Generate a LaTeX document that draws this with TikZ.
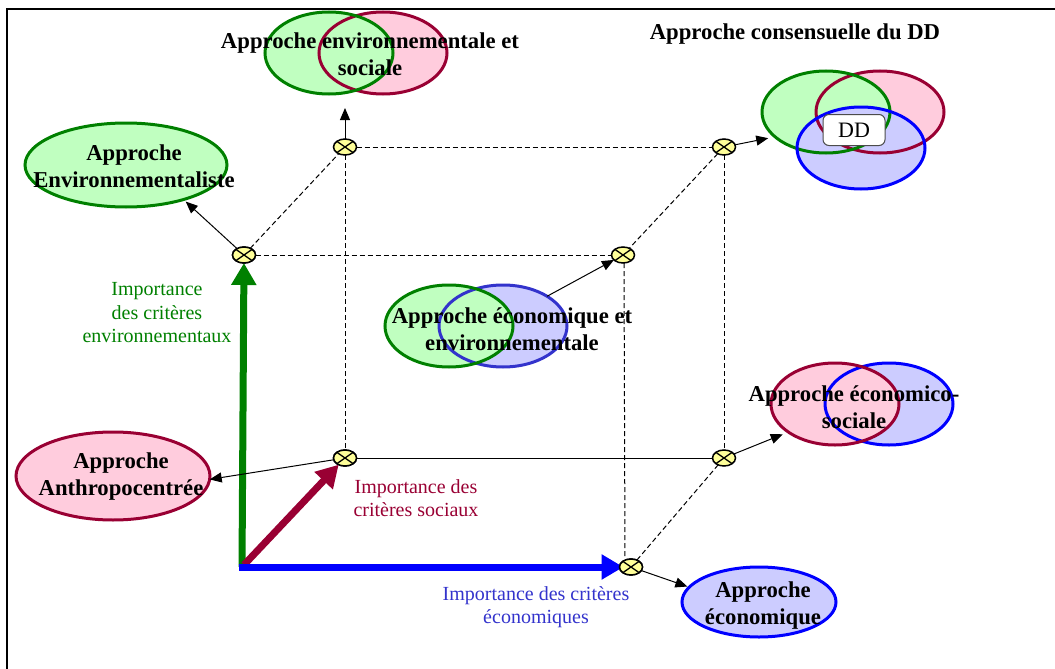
\documentclass[tikz,border=0pt]{standalone}
\usepackage{fontspec}
\setmainfont{Liberation Serif}
\usetikzlibrary{shapes.geometric,arrows.meta,calc}
\definecolor{dgreen}{RGB}{0,128,0}
\definecolor{lgreen}{RGB}{192,255,192}
\definecolor{maroon}{RGB}{153,0,51}
\definecolor{lpink}{RGB}{255,204,221}
\definecolor{dblue}{RGB}{0,0,255}
\definecolor{lblue}{RGB}{204,204,255}
\definecolor{mblue}{RGB}{51,51,204}
\definecolor{myyellow}{RGB}{255,255,153}
\begin{document}
\begin{tikzpicture}[x=1pt,y=-1pt,
 ell/.style={ellipse, inner sep=0pt, outer sep=0pt, minimum width=128pt, minimum height=82pt},
 bt/.style={font=\bfseries\fontsize{22.7}{27}\selectfont, align=center, inner sep=0pt},
 lt/.style={font=\fontsize{20}{23.5}\selectfont, align=center, inner sep=0pt},
 mk/.style={ellipse, draw=black, line width=1.5pt, fill=myyellow, minimum width=23pt, minimum height=16pt, inner sep=0pt, outer sep=0pt,
   path picture={\draw[line width=1.3pt] (path picture bounding box.south west) -- (path picture bounding box.north east)
     (path picture bounding box.north west) -- (path picture bounding box.south east);}},
 dsh/.style={line width=1pt, dash pattern=on 5pt off 3pt},
 arr/.style={line width=1pt, -{Triangle[length=12pt,width=10pt]}},
 big/.style={line width=7pt, -{Triangle[length=22pt,width=24pt]}},
 olw/.style={line width=3pt},
 ddbox/.style={draw=black!70, line width=1pt, fill=white, rounded corners=6pt, minimum width=62pt, minimum height=31pt, inner sep=0pt, font=\fontsize{22}{26}\selectfont}
]
\useasboundingbox (0,0) rectangle (1055,669);
% frame
\coordinate (f1) at (7,669);
\coordinate (f2) at (7,9);
\coordinate (f3) at (1055,9);
\draw[line width=2pt] (f1) -- (f2) -- (f3);

% ---------- ellipse fills ----------
\node[ell, fill=lgreen, minimum width=202pt, minimum height=84pt] (envE) at (126,165) {};
\node[ell, fill=lpink] (esP) at (383,53) {};
\node[ell, fill=lgreen] (esG) at (329,53) {};
\node[ell, fill=lpink] (ddP) at (880,112) {};
\node[ell, fill=lgreen] (ddG) at (826,112) {};
\node[ell, fill=lblue] (ddB) at (861,148) {};
\node[ell, fill=lblue] (eeB) at (503,326) {};
\node[ell, fill=lgreen] (eeG) at (449,326) {};
\node[ell, fill=lpink, minimum width=194pt, minimum height=88pt] (anth) at (113,476) {};
\node[ell, fill=lblue] (soB) at (889,404) {};
\node[ell, fill=lpink] (soP) at (835,404) {};
\node[ell, fill=lblue, minimum width=154pt, minimum height=70pt] (econ) at (759,602) {};

% ---------- ellipse outlines ----------
\draw[dgreen, olw] (envE.center) ellipse [x radius=101pt, y radius=42pt];
\draw[maroon, olw] (esP.center) ellipse [x radius=64pt, y radius=41pt];
\draw[dgreen, olw] (esG.center) ellipse [x radius=64pt, y radius=41pt];
\draw[maroon, olw] (ddP.center) ellipse [x radius=64pt, y radius=41pt];
\draw[dgreen, olw] (ddG.center) ellipse [x radius=64pt, y radius=41pt];
\draw[dblue, olw] (ddB.center) ellipse [x radius=64pt, y radius=41pt];
\draw[mblue, olw] (eeB.center) ellipse [x radius=64pt, y radius=41pt];
\draw[dgreen, olw] (eeG.center) ellipse [x radius=64pt, y radius=41pt];
\draw[maroon, olw] (anth.center) ellipse [x radius=97pt, y radius=44pt];
\draw[dblue, olw] (soB.center) ellipse [x radius=64pt, y radius=41pt];
\draw[maroon, olw] (soP.center) ellipse [x radius=64pt, y radius=41pt];
\draw[dblue, olw] (econ.center) ellipse [x radius=77pt, y radius=35pt];

\node[ddbox] (dd) at (854,130) {DD};

% ---------- texts ----------
\node[bt] (tDD) at (795,34) {Approche consensuelle du DD};
\node[bt] (tES) at (370,54) {Approche environnementale et\\sociale};
\node[bt] (tE) at (134,166) {Approche\\Environnementaliste};
\node[bt] (tEE) at (512,329) {Approche économique et\\environnementale};
\node[bt] (tA) at (121,477) {Approche\\Anthropocentrée};
\node[bt] (tSo) at (854,407) {Approche économico-\\sociale};
\node[bt] (tEc) at (763,606) {Approche\\économique};
\node[lt, text=dgreen] (lG) at (157,313) {Importance\\des critères\\environnementaux};
\node[lt, text=maroon] (lM) at (416,498) {Importance des\\critères sociaux};
\node[lt, text=mblue] (lB) at (536,607) {Importance des critères\\économiques};

% ---------- cube markers ----------
\coordinate (O) at (242,567);
\node[mk] (A) at (244,255) {};
\node[mk] (B) at (345,147) {};
\node[mk] (C) at (724,147) {};
\node[mk] (D) at (623,255) {};
\node[mk] (E) at (345,458) {};
\node[mk] (F) at (724,458) {};
\node[mk] (G) at (631,567) {};

% cube edges
\draw[dsh] (A) -- (B);
\draw[dsh] (B) -- (C);
\draw[dsh] (A) -- (D);
\draw[dsh] (C) -- (D);
\draw[dsh] (B) -- (E);
\draw[dsh] (C) -- (F);
\draw[dsh] ([xshift=1pt]D.south) -- ([xshift=-6pt]G.north);
\draw[dsh] (F) -- (G);
\draw[line width=1pt] (E) -- (F);

% thick axes
\draw[big, dgreen] (O) -- (A);
\draw[big, maroon, shorten <=3pt] (O) -- (E);
\draw[big, dblue, shorten >=-4pt] ([xshift=-3.5pt]O) -- (G);

% redraw markers on top
\node[mk] (A2) at (A) {};
\node[mk] (E2) at (E) {};
\node[mk] (G2) at (G) {};

% thin arrows
\draw[arr, shorten >=3pt] (A) -- (envE.-31);
\draw[arr, shorten >=14pt] (B) -- (B |- esG.south);
\draw[arr, shorten >=7pt] (C) -- (ddG.206);
\draw[arr] (eeB.34) -- (D);
\draw[arr] (E) -- (anth.-2);
\draw[arr, shorten >=6pt] (F) -- (soP.211);
\draw[arr, shorten >=2pt] (G) -- (econ.168);
\end{tikzpicture}
\end{document}
